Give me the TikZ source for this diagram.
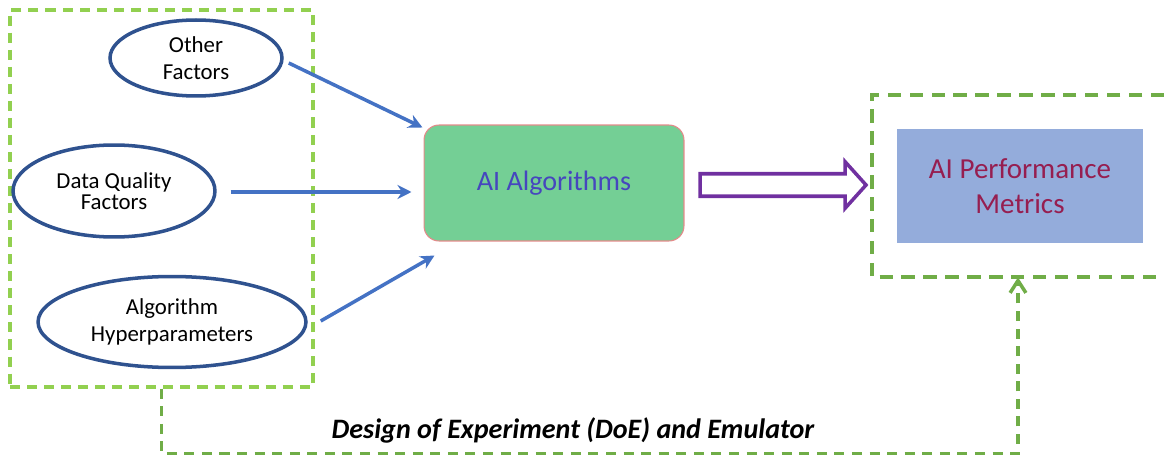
\documentclass[tikz,border=0pt]{standalone}
\usepackage{fontspec}
\setmainfont{Carlito}
\usetikzlibrary{shapes.geometric,shapes.arrows,arrows.meta}
\definecolor{inputgreen}{RGB}{146,208,80}
\definecolor{loopgreen}{RGB}{112,173,71}
\definecolor{ellipseblue}{RGB}{47,82,143}
\definecolor{linkblue}{RGB}{68,114,196}
\definecolor{algofill}{RGB}{116,207,149}
\definecolor{algoedge}{RGB}{228,138,138}
\definecolor{algotext}{RGB}{70,70,190}
\definecolor{flowpurple}{RGB}{112,48,160}
\definecolor{perffill}{RGB}{148,172,219}
\definecolor{perftext}{RGB}{150,30,80}
\begin{document}
\begin{tikzpicture}[x=0.02cm, y=-0.02cm,
    factor/.style={ellipse, draw=ellipseblue, line width=2pt, inner sep=0pt,
        align=center, font=\fontsize{13}{15}\selectfont},
    link/.style={draw=linkblue, line width=2pt, -{Stealth[length=8pt,width=8pt]}},
    inbox/.style={draw=inputgreen, line width=2pt, dash pattern=on 5.7pt off 4pt},
    loopline/.style={draw=loopgreen, line width=2pt, dash pattern=on 5.7pt off 4.3pt}]
    \useasboundingbox (0,0) rectangle (1164,456);
    % input factors
    \node[inbox, minimum width=6.06cm, minimum height=7.54cm] (inputs) at (161.5,198.5) {};
    \node[factor, minimum width=3.44cm, minimum height=1.52cm] (other) at (196,58) {Other\\Factors};
    \node[factor, minimum width=4.04cm, minimum height=1.84cm,
        font=\fontsize{13}{12}\selectfont] (quality) at (114,191) {Data Quality\\Factors};
    \node[factor, minimum width=5.36cm, minimum height=1.82cm] (hyper) at (172,322) {Algorithm\\Hyperparameters};
    % algorithms and metrics
    \node[draw=algoedge, line width=0.6pt, fill=algofill, rounded corners=0.3cm,
        minimum width=5.2cm, minimum height=2.32cm, text=algotext,
        font=\fontsize{16}{19}\selectfont] (algo) at (554,183) {AI Algorithms};
    \node[minimum width=5.84cm, minimum height=3.64cm] (outbox) at (1018,186) {};
    \draw[loopline, dash pattern=on 7.5pt off 5pt, line width=2.2pt]
        (outbox.north east) -- (outbox.north west) -- (outbox.south west) -- (outbox.south east);
    \node[fill=perffill, minimum width=4.92cm, minimum height=2.28cm, text=perftext,
        align=center, font=\fontsize{16.5}{20}\selectfont] (perf) at (1020,186) {AI Performance\\Metrics};
    \node[single arrow, draw=flowpurple, line width=2pt, inner xsep=0pt, inner ysep=0.19cm,
        text height=0pt, text depth=0pt, single arrow head extend=0.24cm,
        single arrow tip angle=96, minimum height=3.32cm] (flow) at (778,185) {};
    % inputs to algorithms
    \draw[link] ([shift={(5,5)}]other.east) -- ([shift={(-1,3)}]algo.north west);
    \draw[link] ([shift={(14,1)}]quality.east) -- ([shift={(-12,9)}]algo.west);
    \draw[link] ([shift={(13,-1)}]hyper.east) -- ([shift={(11,14)}]algo.south west);
    % DoE loop
    \draw[loopline, -{Straight Barb[length=7pt,width=9pt]}]
        (inputs.south) -- ++(0,65) -| (outbox.south);
    \node[font=\fontsize{16}{20}\selectfont\bfseries\itshape] (doe) at (573,430)
        {Design of Experiment (DoE) and Emulator};
\end{tikzpicture}
\end{document}
